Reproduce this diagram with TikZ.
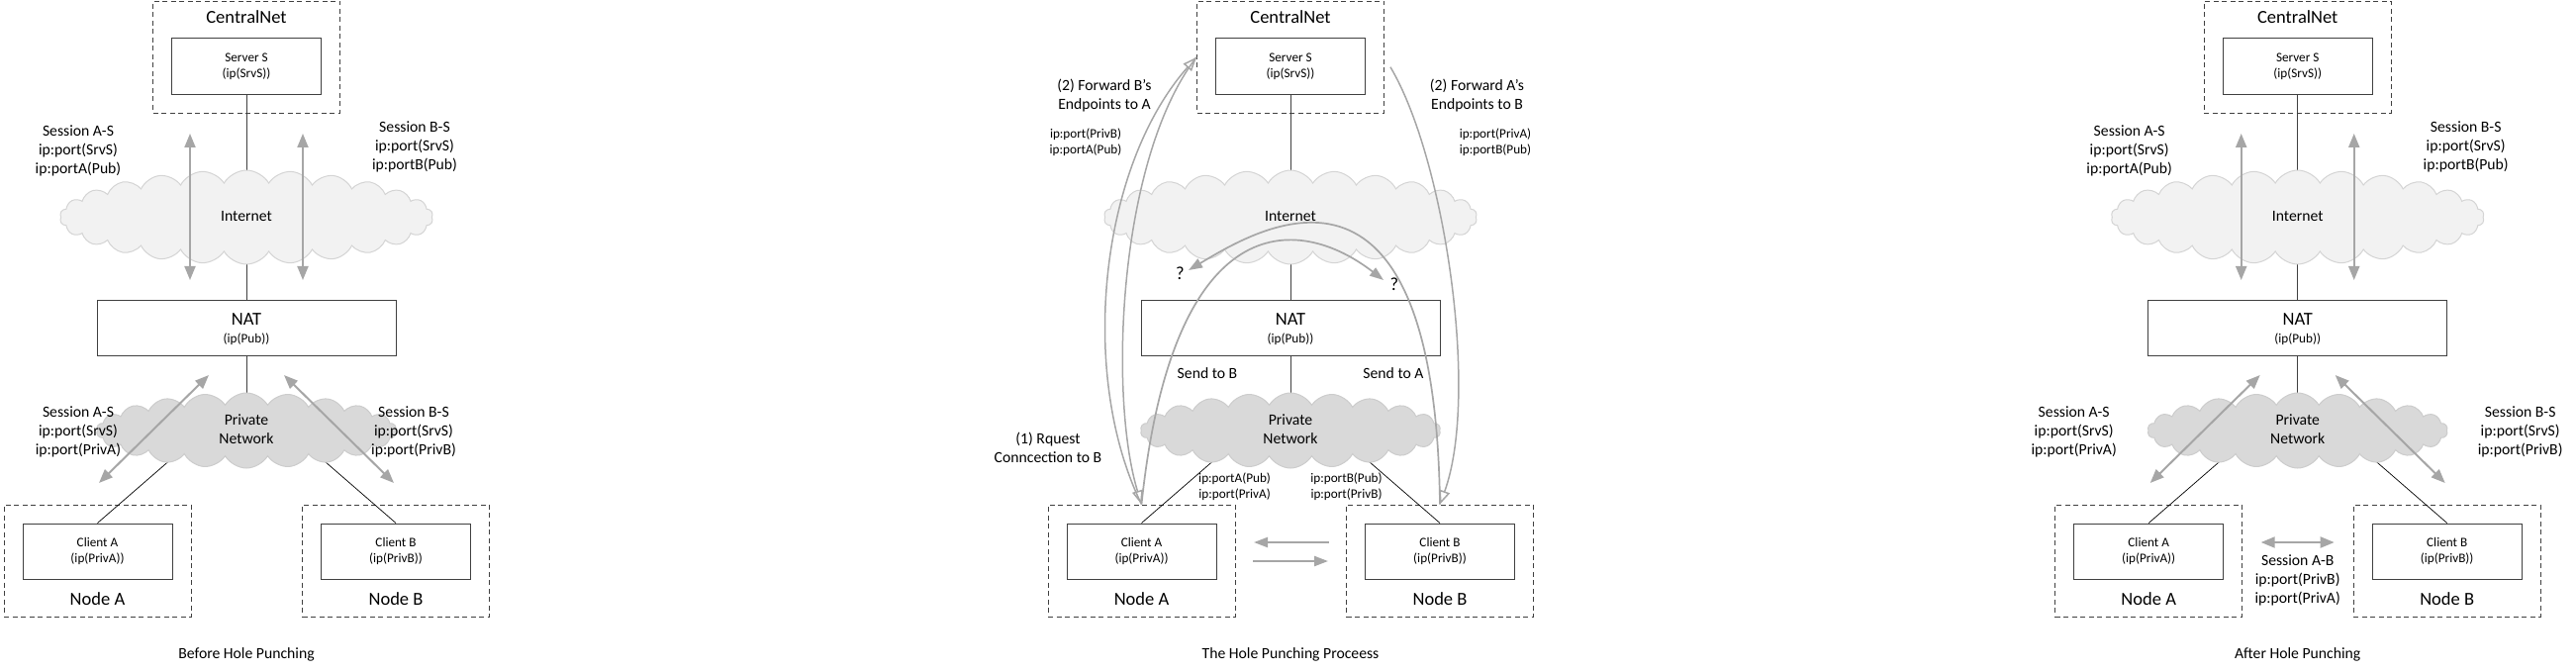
\documentclass[tikz,border=0pt]{standalone}
\usepackage{fontspec}
\setmainfont{Carlito}
\usetikzlibrary{shapes.symbols,arrows.meta,calc}
\definecolor{bx}{HTML}{404040}
\definecolor{ga}{HTML}{A6A6A6}
\definecolor{inetfill}{HTML}{F2F2F2}
\definecolor{inetdraw}{HTML}{D4D4D4}
\definecolor{pnfill}{HTML}{D9D9D9}
\definecolor{pndraw}{HTML}{CCCCCC}
\newcommand\fBig{\fontsize{18.5}{22}\selectfont}
\newcommand\fMed{\fontsize{15.7}{19}\selectfont}
\newcommand\fSml{\fontsize{13.2}{16}\selectfont}
\tikzset{
  solidbox/.style={draw=bx, line width=1pt, fill=white, inner sep=0pt, align=center, font=\fSml},
  dashbox/.style={draw=bx, line width=0.9pt, dash pattern=on 5pt off 3.5pt, inner sep=0pt, minimum width=189pt, minimum height=113pt},
  bigtxt/.style={font=\fBig, inner sep=0pt, align=center},
  medtxt/.style={font=\fMed, inner sep=0pt, align=center},
  smtxt/.style={font=\fSml, inner sep=0pt, align=center},
  inetcloud/.style={cloud, cloud puffs=26, cloud puff arc=120, cloud ignores aspect, minimum width=377pt, minimum height=95pt, fill=inetfill, draw=inetdraw, line width=1pt, inner sep=0pt, font=\fMed},
  pncloud/.style={cloud, cloud puffs=22, cloud puff arc=120, cloud ignores aspect, minimum width=303pt, minimum height=76pt, fill=pnfill, draw=pndraw, line width=1pt, inner sep=0pt, align=center, font=\fMed},
  link/.style={draw=black, line width=0.7pt},
  vlink/.style={draw=bx, line width=1pt},
  garrow/.style={draw=ga, line width=2pt, {Triangle[length=14pt,width=11pt]}-{Triangle[length=14pt,width=11pt]}},
  gsingle/.style={draw=ga, line width=2.2pt, -{Triangle[length=14pt,width=10pt]}},
  oarrow/.style={draw=ga, line width=1.5pt, -{Triangle[open,length=14pt,width=11pt]}},
  garc/.style={draw=ga, line width=1.7pt, -{Triangle[length=14pt,width=10pt]}},
}
% #1 = centre x, #2 = name suffix, #3 = caption
\newcommand\basepanel[3]{%
\begin{scope}[shift={(#1,0)}]
  \node[dashbox, minimum height=112.5pt] (cn#2) at (0,57.75) {};
  \node[bigtxt] (cnl#2) at (0,19.5) {\strut CentralNet};
  \node[solidbox, minimum width=151pt, minimum height=57pt] (srv#2) at (0,67.5) {\strut Server S\\\strut (ip(SrvS))};
  \node[solidbox, minimum width=302pt, minimum height=56pt] (nat#2) at (0,331) {};
  \node[bigtxt] (natl#2) at (0,324.5) {\strut NAT};
  \node[smtxt] (natip#2) at (0,343) {\strut (ip(Pub))};
  \node[dashbox] (na#2) at (-150.5,566.5) {};
  \node[dashbox] (nb#2) at (151,566.5) {};
  \node[solidbox, minimum width=151pt, minimum height=56.5pt] (ca#2) at (-150.5,557.25) {\strut Client A\\\strut (ip(PrivA))};
  \node[solidbox, minimum width=151pt, minimum height=56.5pt] (cb#2) at (151,557.25) {\strut Client B\\\strut (ip(PrivB))};
  \node[bigtxt] (nal#2) at (-150.5,607.5) {\strut Node A};
  \node[bigtxt] (nbl#2) at (151,607.5) {\strut Node B};
  \coordinate (pa#2) at (-60,450);
  \coordinate (pb#2) at (60.5,450);
  \coordinate (pnc#2) at (0,435);
  \draw[vlink] (srv#2.south) -- (nat#2.north);
  \draw[vlink] (nat#2.south) -- (pnc#2);
  \draw[link] (pa#2) -- (ca#2.north);
  \draw[link] (pb#2) -- (cb#2.north);
  \node[inetcloud] (inet#2) at (0,219.5) {\strut Internet};
  \node[pncloud] (pn#2) at (pnc#2) {\strut Private\\\strut Network};
  \node[medtxt] (cap#2) at (0,662) {\strut #3};
\end{scope}}
% session arrows for panels 1 and 3: #1 centre, #2 suffix, #3 lower A-S offset, #4 lower B-S offset
\newcommand\sessions[4]{%
\begin{scope}[shift={(#1,0)}]
  \coordinate (va#2) at (-57,135); \coordinate (vb#2) at (-57,283);
  \coordinate (wa#2) at (57,135);  \coordinate (wb#2) at (57,283);
  \draw[garrow] (va#2) -- (vb#2);
  \draw[garrow] (wa#2) -- (wb#2);
  \coordinate (da#2) at (-149,488); \coordinate (db#2) at (-38,379);
  \coordinate (ea#2) at (38,379);   \coordinate (eb#2) at (149,488);
  \draw[garrow] (da#2) -- (db#2);
  \draw[garrow] (ea#2) -- (eb#2);
  \node[medtxt] (sas#2) at (-170,153) {\strut Session A-S\\\strut ip:port(SrvS)\\\strut ip:portA(Pub)};
  \node[medtxt] (sbs#2) at (170,149) {\strut Session B-S\\\strut ip:port(SrvS)\\\strut ip:portB(Pub)};
  \node[medtxt] (las#2) at (#3,436.5) {\strut Session A-S\\\strut ip:port(SrvS)\\\strut ip:port(PrivA)};
  \node[medtxt] (lbs#2) at (#4,437) {\strut Session B-S\\\strut ip:port(SrvS)\\\strut ip:port(PrivB)};
\end{scope}}
\begin{document}
\begin{tikzpicture}[x=1pt,y=-1pt]
\useasboundingbox (0,0) rectangle (2603,679);
% ---------- panel 1 ----------
\basepanel{249}{1}{Before Hole Punching}
\sessions{249}{1}{-170}{169}
% ---------- panel 3 ----------
\basepanel{2321.7}{3}{After Hole Punching}
\sessions{2321.7}{3}{-226}{225}
\coordinate (hab1) at (2284.7,548);
\coordinate (hab2) at (2358.7,548);
\draw[garrow] (hab1) -- (hab2);
\node[medtxt] (sab3) at (2321.7,587) {\strut Session A-B\\\strut ip:port(PrivB)\\\strut ip:port(PrivA)};
% ---------- panel 2 ----------
\basepanel{1304}{2}{The Hole Punching Proceess}
\node[medtxt] (fwa) at (1116,97) {\strut (2) Forward B's\\\strut Endpoints to A};
\node[smtxt] (fwaip) at (1097,144) {\strut ip:port(PrivB)\\\strut ip:portA(Pub)};
\node[medtxt] (fwb) at (1492.5,97) {\strut (2) Forward A's\\\strut Endpoints to B};
\node[smtxt] (fwbip) at (1511,144) {\strut ip:port(PrivA)\\\strut ip:portB(Pub)};
\node[medtxt] (stb) at (1220,379) {\strut Send to B};
\node[medtxt] (sta) at (1408,379) {\strut Send to A};
\node[medtxt] (req) at (1059,454.5) {\strut (1) Rquest\\\strut Conncection to B};
\node[smtxt] (epa) at (1247.6,492) {\strut ip:portA(Pub)\\\strut ip:port(PrivA)};
\node[smtxt] (epb) at (1360.5,492) {\strut ip:portB(Pub)\\\strut ip:port(PrivB)};
\node[bigtxt] (qa) at (1192.5,278.5) {\strut ?};
\node[bigtxt] (qb) at (1409,289.5) {\strut ?};
\coordinate (tipA) at (1201,273);
\coordinate (tipB) at (1398,283);
\draw[oarrow] (na2.north) .. controls (1090,380) and (1110,170) .. (cn2.west);
\draw[oarrow] (cn2.west) .. controls (1130,160) and (1120,400) .. (na2.north);
\draw[oarrow] ([xshift=6pt,yshift=-10pt]cn2.east) .. controls (1460,160) and (1495,400) .. (nb2.north);
\draw[garc] (na2.north) .. controls (1185,210) and (1310,215) .. (tipB);
\draw[garc] (nb2.north) .. controls (1450,120) and (1270,232) .. (tipA);
\coordinate (hl1) at (1342.5,548);
\coordinate (hl2) at (1267,548);
\coordinate (hr1) at (1266,567);
\coordinate (hr2) at (1342,567);
\draw[gsingle] (hl1) -- (hl2);
\draw[gsingle] (hr1) -- (hr2);
\end{tikzpicture}
\end{document}
